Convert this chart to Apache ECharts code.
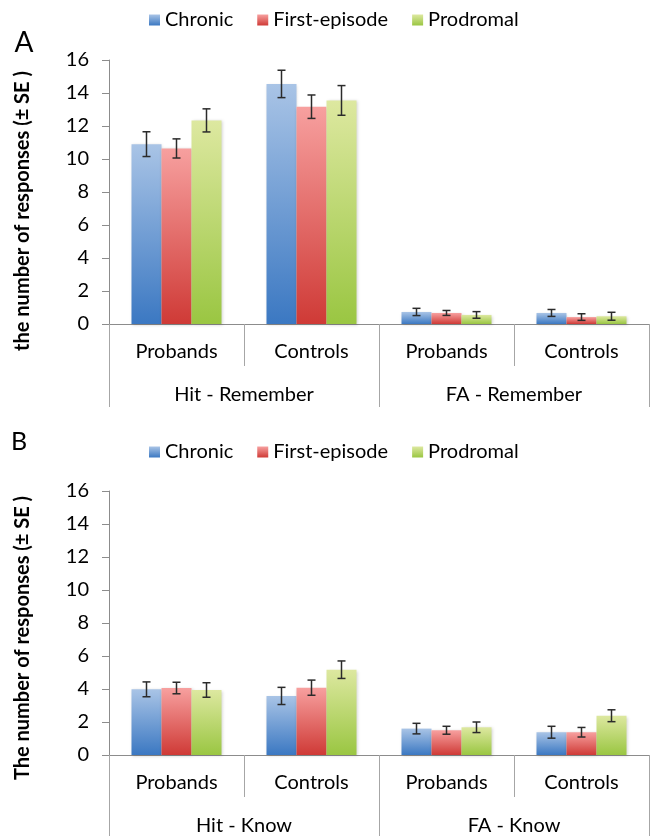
<!DOCTYPE html>
<html>
<head>
<meta charset="utf-8">
<script src="https://cdn.jsdelivr.net/npm/echarts@6/dist/echarts.min.js"></script>
<style>
  html, body { margin: 0; padding: 0; background: #fff; }
  #chart { width: 658px; height: 836px; }
</style>
</head>
<body>
<div id="chart"></div>
<script>
// ---------- data ----------
const categories = ['Probands', 'Controls', 'Probands', 'Controls'];
const groupsA = ['Hit - Remember', 'FA - Remember'];
const groupsB = ['Hit - Know', 'FA - Know'];
const seriesNames = ['Chronic', 'First-episode', 'Prodromal'];
const yTicks = [0, 2, 4, 6, 8, 10, 12, 14, 16];

// Panel A (Remember)
const chronicA = [10.9, 14.55, 0.73, 0.67];
const chronicA_se = [0.75, 0.83, 0.22, 0.21];
const firstA = [10.64, 13.17, 0.67, 0.42];
const firstA_se = [0.58, 0.71, 0.15, 0.20];
const prodA = [12.34, 13.55, 0.55, 0.47];
const prodA_se = [0.70, 0.90, 0.20, 0.24];

// Panel B (Know)
const chronicB = [3.98, 3.58, 1.60, 1.38];
const chronicB_se = [0.45, 0.52, 0.32, 0.36];
const firstB = [4.06, 4.08, 1.50, 1.38];
const firstB_se = [0.35, 0.46, 0.24, 0.29];
const prodB = [3.94, 5.17, 1.68, 2.38];
const prodB_se = [0.44, 0.53, 0.32, 0.36];

// ---------- styling ----------
const FONT = 'Lato';
const gradients = [
  ['#a9c4e6', '#3b78c2'],
  ['#f7a09f', '#cf3a36'],
  ['#dde8a0', '#9ac642']
];
function grad(i) {
  return new echarts.graphic.LinearGradient(0, 0, 0, 1, [
    { offset: 0, color: gradients[i][0] },
    { offset: 1, color: gradients[i][1] }
  ]);
}
const axisGray = '#8c8c8c';
const sepGray = '#a6a6a6';

const panelA = [[chronicA, chronicA_se], [firstA, firstA_se], [prodA, prodA_se]];
const panelB = [[chronicB, chronicB_se], [firstB, firstB_se], [prodB, prodB_se]];

function errData(panel) {
  const out = [];
  panel.forEach((p, si) => {
    p[0].forEach((v, ci) => out.push([ci, si, v, p[1][ci]]));
  });
  return out;
}

function renderErr(params, api) {
  const cat = api.value(0), si = api.value(1), v = api.value(2), se = api.value(3);
  const band = api.size([1, 0])[0];
  const bw = band * (2 / 3) / 3;
  const x = api.coord([cat, v])[0] + (si - 1) * bw;
  const yTop = api.coord([cat, v + se])[1];
  const yBot = api.coord([cat, v - se])[1];
  const h = 4;
  const st = { stroke: '#2b2b2b', lineWidth: 1.5 };
  return {
    type: 'group',
    children: [
      { type: 'line', shape: { x1: x, y1: yTop, x2: x, y2: yBot }, style: st },
      { type: 'line', shape: { x1: x - h, y1: yTop, x2: x + h, y2: yTop }, style: st },
      { type: 'line', shape: { x1: x - h, y1: yBot, x2: x + h, y2: yBot }, style: st }
    ]
  };
}

function xAxesFor(gi, groups, outerLen) {
  return [
    {
      type: 'category', gridIndex: gi, data: categories, position: 'bottom',
      axisLine: { show: true, lineStyle: { color: axisGray, width: 1 } },
      axisTick: { show: true, interval: 0, length: 42, lineStyle: { color: sepGray, width: 1 } },
      axisLabel: { interval: 0, margin: 18, color: '#000', fontFamily: FONT, fontSize: 20, lineHeight: 20 }
    },
    {
      type: 'category', gridIndex: gi, data: groups, position: 'bottom',
      axisLine: { show: false },
      axisTick: { show: true, interval: 0, length: outerLen, lineStyle: { color: sepGray, width: 1 } },
      axisLabel: { interval: 0, margin: 61, color: '#000', fontFamily: FONT, fontSize: 20, lineHeight: 20 }
    }
  ];
}

function yAxisFor(gi) {
  return {
    type: 'value', gridIndex: gi, min: yTicks[0], max: yTicks[yTicks.length - 1], interval: 2,
    axisLine: { show: true, lineStyle: { color: axisGray, width: 1 } },
    axisTick: { show: true, length: 7, lineStyle: { color: axisGray } },
    splitLine: { show: false },
    axisLabel: { margin: 20, color: '#000', fontFamily: FONT, fontSize: 20 }
  };
}

function barSeries(panel, xi, yi) {
  return panel.map((p, si) => ({
    type: 'bar', name: seriesNames[si], xAxisIndex: xi, yAxisIndex: yi,
    data: p[0], barGap: '0%', barCategoryGap: '33.33%',
    itemStyle: {
      color: grad(si),
      shadowColor: 'rgba(0,0,0,0.18)', shadowBlur: 3, shadowOffsetX: 1, shadowOffsetY: 1
    },
    emphasis: { disabled: true },
    animation: false
  }));
}

function legendAt(top) {
  return {
    top: top, left: 144, itemWidth: 11, itemHeight: 11, itemGap: 24, icon: 'rect',
    data: seriesNames,
    textStyle: { fontFamily: FONT, fontSize: 20, color: '#000' },
    selectedMode: false
  };
}

const chart = echarts.init(document.getElementById('chart'), null, { renderer: 'canvas' });
chart.setOption({
  animation: false,
  backgroundColor: '#fff',
  legend: [legendAt(5), legendAt(437)],
  grid: [
    { left: 109, width: 540, top: 60, height: 264 },
    { left: 109, width: 540, top: 491, height: 264 }
  ],
  xAxis: [].concat(xAxesFor(0, groupsA, 83), xAxesFor(1, groupsB, 81)),
  yAxis: [yAxisFor(0), yAxisFor(1)],
  series: [].concat(
    barSeries(panelA, 0, 0),
    barSeries(panelB, 2, 1),
    [
      { type: 'custom', xAxisIndex: 0, yAxisIndex: 0, data: errData(panelA), renderItem: renderErr, encode: { x: 0, y: 2 }, z: 10, silent: true },
      { type: 'custom', xAxisIndex: 2, yAxisIndex: 1, data: errData(panelB), renderItem: renderErr, encode: { x: 0, y: 2 }, z: 10, silent: true }
    ]
  ),
  graphic: [
    { type: 'text', x: 24, y: 43, style: { text: 'A', font: '28px ' + FONT, fill: '#000', align: 'center', verticalAlign: 'middle', textAlign: 'center', textVerticalAlign: 'middle' } },
    { type: 'text', x: 19, y: 442, style: { text: 'B', font: '25px ' + FONT, fill: '#000', align: 'center', verticalAlign: 'middle', textAlign: 'center', textVerticalAlign: 'middle' } },
    { type: 'text', x: 23, y: 211, rotation: Math.PI / 2, style: { text: 'the number of responses (± SE )', font: 'bold 20px ' + FONT, fill: '#000', align: 'center', verticalAlign: 'middle', textAlign: 'center', textVerticalAlign: 'middle' } },
    { type: 'text', x: 23, y: 638, rotation: Math.PI / 2, style: { text: 'The number of responses (± SE )', font: 'bold 20px ' + FONT, fill: '#000', align: 'center', verticalAlign: 'middle', textAlign: 'center', textVerticalAlign: 'middle' } }
  ]
});
</script>
</body>
</html>
